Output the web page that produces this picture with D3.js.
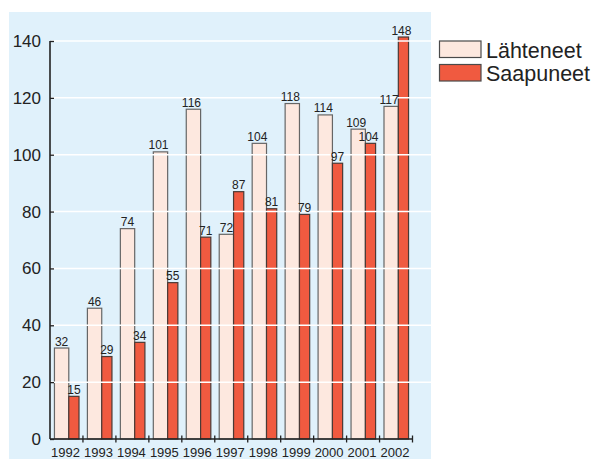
<!DOCTYPE html>
<html>
<head>
<meta charset="utf-8">
<script src="https://cdn.jsdelivr.net/npm/d3@7"></script>
<style>
  body { margin: 0; background: #fff; }
  svg { display: block; font-family: "Liberation Sans", Arial, sans-serif; }
</style>
</head>
<body>
<div id="chart"></div>
<script>
const WIDTH = 595;
const HEIGHT = 459;

const years = ['1992', '1993', '1994', '1995', '1996', '1997', '1998', '1999', '2000', '2001', '2002'];
const lahteneet = [32, 46, 74, 101, 116, 72, 104, 118, 114, 109, 117];
const saapuneet = [15, 29, 34, 55, 71, 87, 81, 79, 97, 104, 148];
const yTicks = [0, 20, 40, 60, 80, 100, 120, 140];
const seriesNames = ['Lähteneet', 'Saapuneet'];
const seriesColors = ['#fde8df', '#f05a40'];
const Y_CAP = 141.4; // bars taller than this are cut off at the top of the plot

const svg = d3.select('#chart')
  .append('svg')
  .attr('width', WIDTH)
  .attr('height', HEIGHT);

// light blue panel behind the plot
svg.append('rect')
  .attr('x', 9)
  .attr('y', 12)
  .attr('width', 422)
  .attr('height', HEIGHT - 12)
  .attr('fill', '#e0f1fb');

const xScale = d3.scaleBand()
  .domain(years)
  .range([50, 412.5]);

const yScale = d3.scaleLinear()
  .domain([0, 140])
  .range([439, 41]);

const bw = xScale.bandwidth();
// bars sit side by side inside each year band, light one a bit wider
const light = { off: bw * 0.135, w: bw * 0.435 };
const red = { off: bw * 0.57, w: bw * 0.31 };
const capped = d => Math.min(d, Y_CAP);

function drawBars(values, pos, color, strokeColor) {
  svg.append('g')
    .selectAll('rect')
    .data(values)
    .enter()
    .append('rect')
    .attr('x', (d, i) => xScale(years[i]) + pos.off)
    .attr('y', d => yScale(capped(d)))
    .attr('width', pos.w)
    .attr('height', d => yScale(0) - yScale(capped(d)))
    .attr('fill', color)
    .attr('stroke', strokeColor)
    .attr('stroke-width', 1.2);
}

function drawLabels(values, pos) {
  svg.append('g')
    .selectAll('text')
    .data(values)
    .enter()
    .append('text')
    // three-digit labels sit a touch left of the bar centre in the original
    .attr('x', (d, i) => xScale(years[i]) + pos.off + pos.w / 2 - (d >= 100 ? 2 : 0))
    .attr('y', d => yScale(capped(d)) - 2.5)
    .attr('text-anchor', 'middle')
    .attr('font-size', 12)
    .attr('fill', '#222')
    .text(d => d);
}

drawBars(lahteneet, light, seriesColors[0], '#666');
drawBars(saapuneet, red, seriesColors[1], '#4a3a36');

// white gridlines drawn over the bars
svg.append('g')
  .selectAll('line')
  .data(yTicks.filter(d => d > 0))
  .enter()
  .append('line')
  .attr('x1', 51)
  .attr('x2', 431)
  .attr('y1', d => yScale(d))
  .attr('y2', d => yScale(d))
  .attr('stroke', '#fff')
  .attr('stroke-width', 1.5);

drawLabels(lahteneet, light);
drawLabels(saapuneet, red);

// y axis
const yAxis = d3.axisRight(yScale)
  .tickValues(yTicks)
  .tickSize(4)
  .tickFormat('');
const yg = svg.append('g')
  .attr('transform', 'translate(50,0)')
  .call(yAxis);
yg.select('.domain').remove();
yg.selectAll('line').attr('stroke', '#222').attr('stroke-width', 1.3);
svg.append('line')
  .attr('x1', 50).attr('x2', 50)
  .attr('y1', yScale(140)).attr('y2', yScale(0))
  .attr('stroke', '#222')
  .attr('stroke-width', 1.6);

svg.append('g')
  .selectAll('text')
  .data(yTicks)
  .enter()
  .append('text')
  .attr('x', 41)
  .attr('y', d => yScale(d) + 6)
  .attr('text-anchor', 'end')
  .attr('font-size', 17)
  .attr('fill', '#222')
  .text(d => d);

// x axis with ticks at band edges
svg.append('line')
  .attr('x1', 50).attr('x2', 412.5)
  .attr('y1', 439).attr('y2', 439)
  .attr('stroke', '#222')
  .attr('stroke-width', 1.6);

svg.append('g')
  .selectAll('line')
  .data(years.slice(1).concat(['end']))
  .enter()
  .append('line')
  .attr('x1', d => d === 'end' ? 412.5 : xScale(d))
  .attr('x2', d => d === 'end' ? 412.5 : xScale(d))
  .attr('y1', 435.5)
  .attr('y2', 442.5)
  .attr('stroke', '#222')
  .attr('stroke-width', 1.3);

svg.append('g')
  .selectAll('text')
  .data(years)
  .enter()
  .append('text')
  .attr('x', d => xScale(d) + bw / 2 - 1)
  .attr('y', 457)
  .attr('text-anchor', 'middle')
  .attr('font-size', 13)
  .attr('fill', '#222')
  .text(d => d);

// legend
const legend = svg.append('g');
seriesNames.forEach((name, i) => {
  legend.append('rect')
    .attr('x', 439.5)
    .attr('y', 41 + i * 23.5)
    .attr('width', 41.5)
    .attr('height', 16.5)
    .attr('fill', seriesColors[i])
    .attr('stroke', '#4a4a4a')
    .attr('stroke-width', 1.2);
  legend.append('text')
    .attr('x', 486)
    .attr('y', 57.5 + i * 23.5)
    .attr('font-size', 21.5)
    .attr('fill', '#222')
    .text(name);
});
</script>
</body>
</html>
